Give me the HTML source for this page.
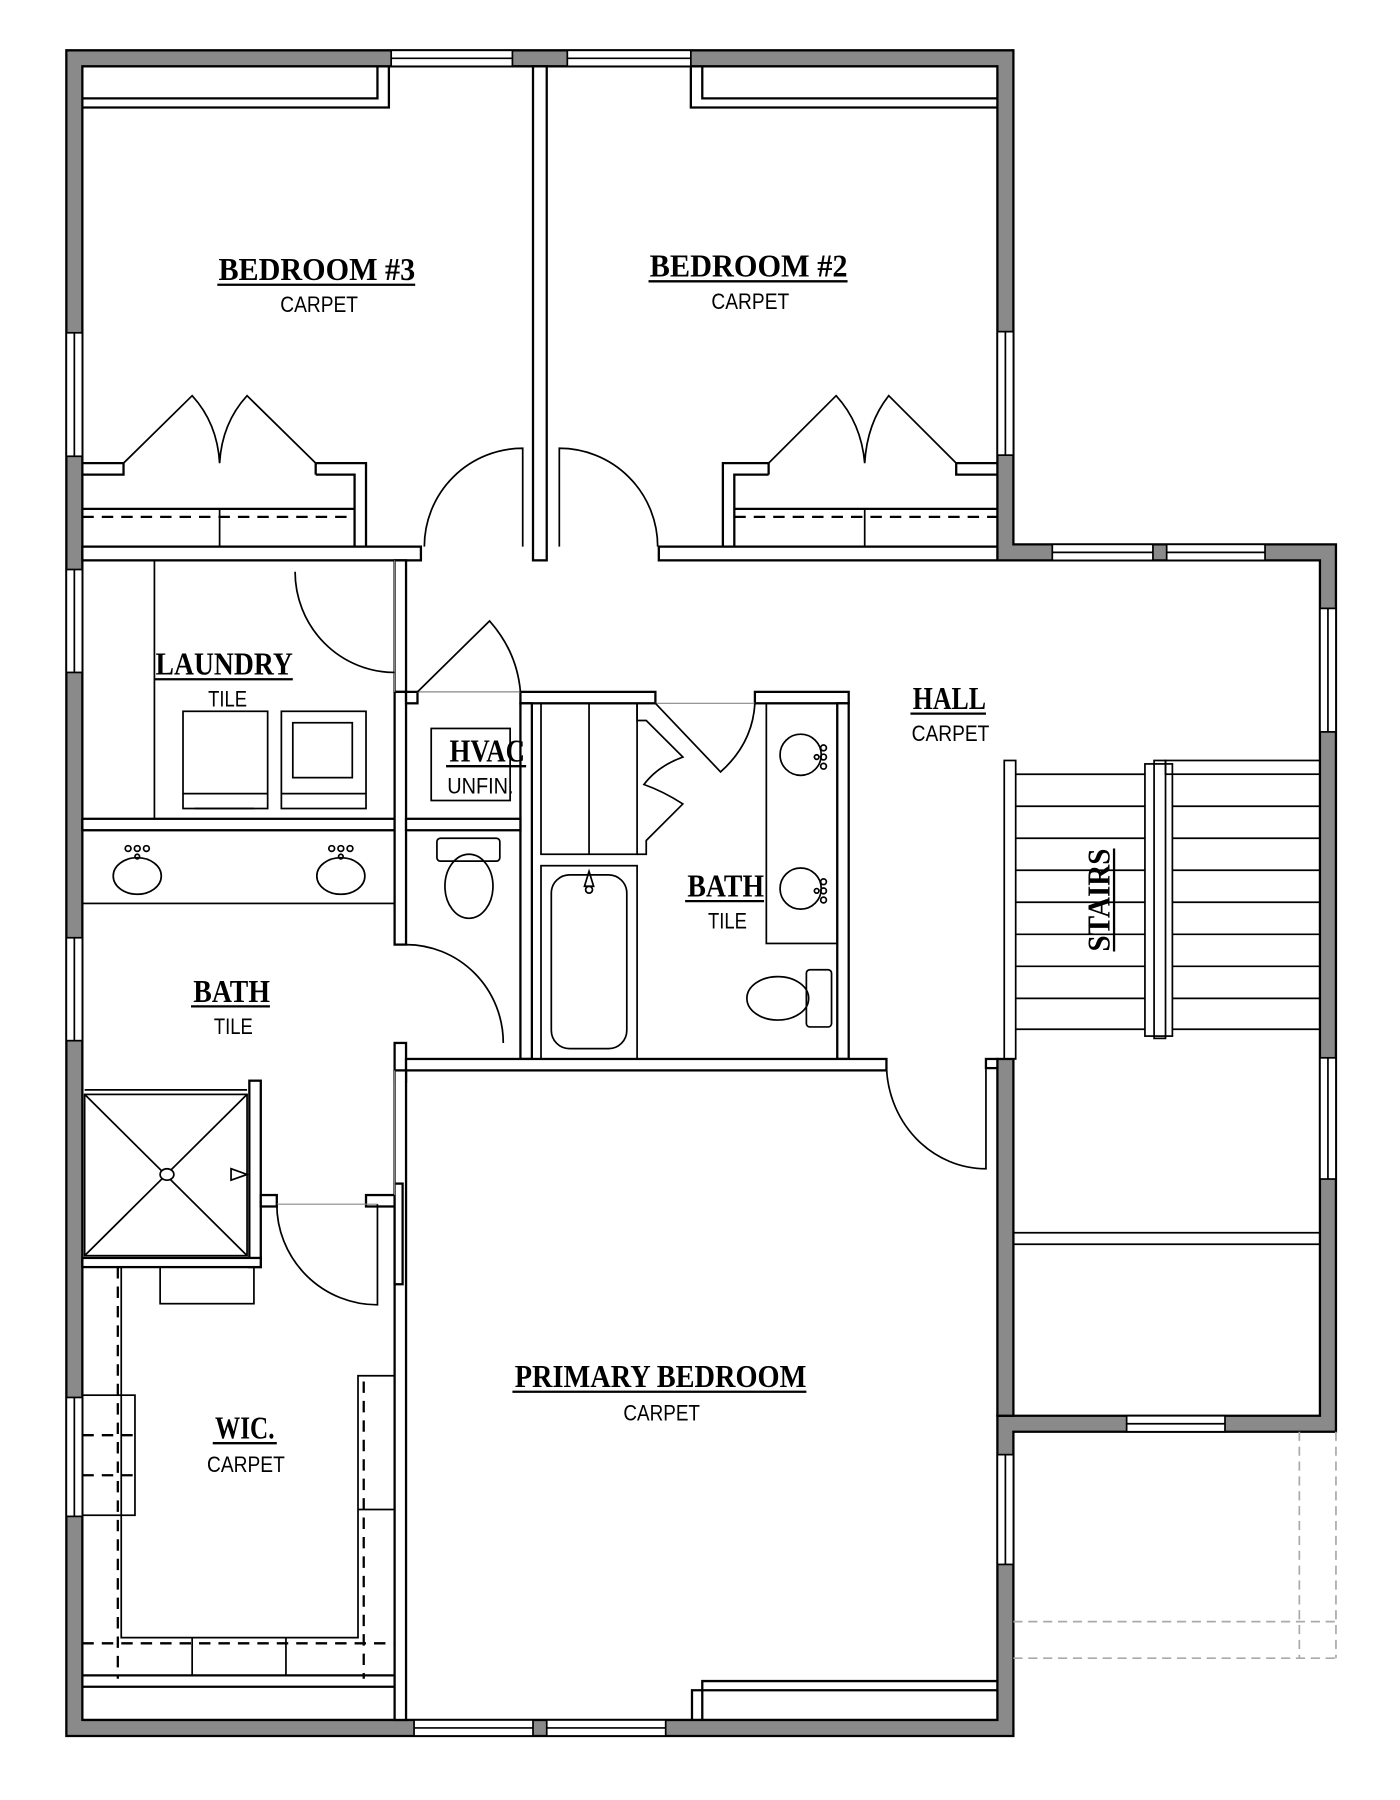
<!DOCTYPE html>
<html><head><meta charset="utf-8"><style>html,body{margin:0;padding:0;background:#fff}svg{display:block}
.w{fill:#8a8a8a;stroke:#000;stroke-width:2}
.iw{fill:#fff;stroke:#000;stroke-width:2}
.l{fill:none;stroke:#000;stroke-width:2}
.t{fill:none;stroke:#000;stroke-width:1.5}
.g{fill:none;stroke:#888;stroke-width:1}
.d{fill:none;stroke:#000;stroke-width:2;stroke-dasharray:10 7}
.gd{fill:none;stroke:#aaa;stroke-width:1.5;stroke-dasharray:8 5}
.win{fill:#fff;stroke:#000;stroke-width:1.5}
.h{font-family:"Liberation Serif",serif;font-weight:bold;font-size:28px;fill:#000}
.s{font-family:"Liberation Sans",sans-serif;font-size:19px;fill:#000}
</style></head><body>
<svg width="1400" height="1800" viewBox="0 0 1224 1574" preserveAspectRatio="none" xmlns="http://www.w3.org/2000/svg">
<!-- exterior walls -->
<path class="w" fill-rule="evenodd" d="M58,44 H886 V476 H1168 V1252 H886 V1518 H58 Z M72,58 V1504 H872 V1238 H1154 V490 H872 V58 Z"/>
<rect class="w" x="872" y="926" width="14" height="312"/>
<!-- windows -->
<g class="win">
<rect x="342" y="44" width="106" height="14"/><line x1="342" y1="51" x2="448" y2="51"/>
<rect x="496" y="44" width="108" height="14"/><line x1="496" y1="51" x2="604" y2="51"/>
<rect x="58" y="291" width="14" height="108"/><line x1="65" y1="291" x2="65" y2="399"/>
<rect x="58" y="498" width="14" height="90"/><line x1="65" y1="498" x2="65" y2="588"/>
<rect x="58" y="820" width="14" height="90"/><line x1="65" y1="820" x2="65" y2="910"/>
<rect x="58" y="1222" width="14" height="104"/><line x1="65" y1="1222" x2="65" y2="1326"/>
<rect x="872" y="290" width="14" height="108"/><line x1="879" y1="290" x2="879" y2="398"/>
<rect x="920" y="476" width="88" height="14"/><line x1="920" y1="483" x2="1008" y2="483"/>
<rect x="1020" y="476" width="86" height="14"/><line x1="1020" y1="483" x2="1106" y2="483"/>
<rect x="1154" y="532" width="14" height="108"/><line x1="1161" y1="532" x2="1161" y2="640"/>
<rect x="1154" y="925" width="14" height="106"/><line x1="1161" y1="925" x2="1161" y2="1031"/>
<rect x="985" y="1238" width="86" height="14"/><line x1="985" y1="1245" x2="1071" y2="1245"/>
<rect x="872" y="1272" width="14" height="96"/><line x1="879" y1="1272" x2="879" y2="1368"/>
<rect x="362" y="1504" width="104" height="14"/><line x1="362" y1="1511" x2="466" y2="1511"/>
<rect x="478" y="1504" width="104" height="14"/><line x1="478" y1="1511" x2="582" y2="1511"/>
</g>
<!-- interior walls -->
<g class="iw">
<rect x="466" y="58" width="12" height="432"/>
<rect x="72" y="478" width="296" height="12"/>
<rect x="576" y="478" width="296" height="12"/>
<rect x="345" y="490" width="10" height="115"/>
<rect x="72" y="716" width="273" height="10"/>
<rect x="345" y="605" width="10" height="221"/>
<rect x="355" y="605" width="10" height="10"/>
<rect x="455" y="605" width="118" height="10"/>
<rect x="455" y="615" width="10" height="311"/>
<rect x="355" y="716" width="100" height="10"/>
<rect x="660" y="605" width="82" height="10"/>
<rect x="732" y="615" width="10" height="311"/>
<rect x="345" y="912" width="10" height="34"/>
<rect x="355" y="926" width="420" height="10"/>
<rect x="862" y="926" width="10" height="8"/>
<rect x="345" y="936" width="10" height="568"/>
<rect x="218" y="945" width="10" height="163"/>
<rect x="228" y="1045" width="14" height="10"/>
<rect x="320" y="1045" width="25" height="10"/>
<rect x="72" y="1100" width="156" height="8"/>
</g>
<rect x="345" y="1035" width="7" height="88" fill="#fff" stroke="#000" stroke-width="2"/>
<line class="g" x1="345" y1="490" x2="345" y2="605"/>
<line class="g" x1="365" y1="605" x2="455" y2="605"/>
<line class="g" x1="573" y1="615" x2="660" y2="615"/>
<line class="g" x1="345" y1="936" x2="345" y2="1045"/>
<line class="g" x1="242" y1="1053" x2="330" y2="1053"/>
<!-- top wardrobes -->
<path class="l" d="M72,86 H330 V58 M72,94 H340 V58"/>
<path class="l" d="M872,86 H614 V58 M872,94 H604 V58"/>
<path class="l" d="M872,1470 H614 V1504 M872,1478 H605 V1504"/>
<!-- bedroom 3 closet -->
<path class="l" d="M72,405 H108 V415 H72 M276,415 V405 H320 V478 M310,478 V415 H276"/>
<line class="l" x1="72" y1="445" x2="310" y2="445"/>
<line class="d" x1="72" y1="452" x2="310" y2="452"/>
<line class="t" x1="192" y1="445" x2="192" y2="478"/>
<path class="t" d="M108,405 L168,346 Q190,370 192,405 M276,405 L216,346 Q194,370 192,405"/>
<!-- bedroom 2 closet -->
<path class="l" d="M872,405 H836 V415 H872 M672,415 V405 H632 V478 M642,478 V415 H672"/>
<line class="l" x1="642" y1="445" x2="872" y2="445"/>
<line class="d" x1="642" y1="452" x2="872" y2="452"/>
<line class="t" x1="756" y1="445" x2="756" y2="478"/>
<path class="t" d="M672,405 L731,346 Q753,370 756,405 M836,405 L777,346 Q758,370 756,405"/>
<!-- bedroom doors -->
<path class="t" d="M457,478 V392 A86,86 0 0 0 371,478"/>
<path class="t" d="M489,478 V392 A86,86 0 0 1 575,478"/>
<!-- laundry -->
<path class="t" d="M258,500 A87,88 0 0 0 345,588"/>
<line class="t" x1="135" y1="490" x2="135" y2="716"/>
<rect class="t" x="160" y="622" width="74" height="85"/>
<path class="t" d="M160,694 H234 M170,707 H222"/>
<rect class="t" x="246" y="622" width="74" height="85"/>
<rect class="t" x="256" y="632" width="52" height="48"/>
<path class="t" d="M246,694 H320"/>
<!-- HVAC -->
<path class="t" d="M365,605 L428,543 Q452,570 455,605"/>
<rect class="t" x="377" y="637" width="69" height="63"/>
<!-- toilet closet -->
<path class="t" d="M355,826 A85,86 0 0 1 440,912 H440"/>
<rect class="t" x="382" y="733" width="55" height="20" rx="3"/>
<ellipse class="t" cx="410" cy="775" rx="21" ry="28"/>
<!-- bath 2 -->
<rect class="t" x="473" y="615" width="84" height="132"/>
<line class="t" x1="515" y1="615" x2="515" y2="747"/>
<path class="t" d="M557,615 V630 H565 L597,662 Q575,670 563,686 Q580,692 597,703 L565,735 V747 H557"/>
<path class="t" d="M573,615 L630,675 Q658,650 660,615"/>
<rect class="t" x="473" y="757" width="84" height="169"/>
<rect class="t" x="482" y="765" width="66" height="152" rx="16"/>
<path class="t" d="M511,775 L515,762 L519,775 Z"/><circle class="t" cx="515" cy="778" r="3"/>
<rect class="t" x="670" y="615" width="62" height="210"/>
<circle class="t" cx="700" cy="660" r="18"/><circle class="t" cx="700" cy="777" r="18"/>
<g class="t"><circle cx="720" cy="654" r="2.5"/><circle cx="720" cy="662" r="2.5"/><circle cx="720" cy="670" r="2.5"/><circle cx="714" cy="662" r="2"/>
<circle cx="720" cy="771" r="2.5"/><circle cx="720" cy="779" r="2.5"/><circle cx="720" cy="787" r="2.5"/><circle cx="714" cy="779" r="2"/></g>
<rect class="t" x="705" y="848" width="22" height="50" rx="3"/>
<ellipse class="t" cx="680" cy="873" rx="27" ry="19"/>
<!-- bath 1 -->
<rect class="t" x="72" y="726" width="273" height="64"/>
<ellipse class="t" cx="120" cy="766" rx="21" ry="16"/><ellipse class="t" cx="298" cy="766" rx="21" ry="16"/>
<g class="t"><circle cx="112" cy="742" r="2.5"/><circle cx="120" cy="742" r="2.5"/><circle cx="128" cy="742" r="2.5"/><circle cx="120" cy="749" r="2"/>
<circle cx="290" cy="742" r="2.5"/><circle cx="298" cy="742" r="2.5"/><circle cx="306" cy="742" r="2.5"/><circle cx="298" cy="749" r="2"/></g>
<!-- primary door -->
<path class="t" d="M775,930 A87,92 0 0 0 862,1022 V934"/>
<!-- shower -->
<rect class="t" x="74" y="957" width="142" height="141"/>
<line class="t" x1="74" y1="953" x2="216" y2="953"/>
<path class="t" d="M74,957 L216,1098 M216,957 L74,1098"/>
<ellipse cx="146" cy="1027" rx="6" ry="5" fill="#fff" stroke="#000" stroke-width="1.5"/>
<path class="t" d="M202,1022 L216,1027 L202,1032 Z"/>
<!-- WIC -->
<path class="t" d="M242,1053 A88,88 0 0 0 330,1141 V1053"/>
<rect class="t" x="140" y="1108" width="82" height="32"/>
<line class="d" x1="103" y1="1108" x2="103" y2="1468"/>
<path class="t" d="M106,1108 V1432 H313 V1203 H345"/>
<line class="d" x1="318" y1="1208" x2="318" y2="1468"/>
<line class="t" x1="313" y1="1320" x2="345" y2="1320"/>
<line class="d" x1="72" y1="1437" x2="345" y2="1437"/>
<path class="t" d="M168,1432 V1465 M250,1432 V1465"/>
<path class="l" d="M72,1465 H345 M72,1475 H345"/>
<rect class="t" x="72" y="1220" width="46" height="105"/>
<path class="d" d="M72,1255 H118 M72,1290 H118"/>
<!-- stairs -->
<rect class="t" x="878" y="665" width="10" height="261"/>
<g class="t">
<line x1="888" y1="677" x2="1001" y2="677"/><line x1="888" y1="705" x2="1001" y2="705"/><line x1="888" y1="733" x2="1001" y2="733"/>
<line x1="888" y1="761" x2="1001" y2="761"/><line x1="888" y1="789" x2="1001" y2="789"/><line x1="888" y1="817" x2="1001" y2="817"/>
<line x1="888" y1="845" x2="1001" y2="845"/><line x1="888" y1="873" x2="1001" y2="873"/><line x1="888" y1="900" x2="1001" y2="900"/>
<line x1="1025" y1="705" x2="1154" y2="705"/><line x1="1025" y1="733" x2="1154" y2="733"/><line x1="1025" y1="761" x2="1154" y2="761"/>
<line x1="1025" y1="789" x2="1154" y2="789"/><line x1="1025" y1="817" x2="1154" y2="817"/><line x1="1025" y1="845" x2="1154" y2="845"/>
<line x1="1025" y1="873" x2="1154" y2="873"/><line x1="1025" y1="900" x2="1154" y2="900"/>
<rect x="1001" y="668" width="24" height="238"/><rect x="1009" y="665" width="10" height="243"/>
<rect x="1019" y="665" width="135" height="12"/>
<line x1="886" y1="1078" x2="1154" y2="1078"/><line x1="886" y1="1088" x2="1154" y2="1088"/>
</g>
<!-- deck dashed -->
<path class="gd" d="M886,1418 H1168 M886,1450 H1168 M1136,1252 V1450 M1168,1252 V1450"/>
<!-- labels -->
<g class="h">
<text x="191" y="245" textLength="172" lengthAdjust="spacingAndGlyphs">BEDROOM #3</text>
<text x="568" y="242" textLength="173" lengthAdjust="spacingAndGlyphs">BEDROOM #2</text>
<text x="136" y="590" textLength="120" lengthAdjust="spacingAndGlyphs">LAUNDRY</text>
<text x="393" y="666" textLength="66" lengthAdjust="spacingAndGlyphs">HVAC</text>
<text x="601" y="784" textLength="67" lengthAdjust="spacingAndGlyphs">BATH</text>
<text x="798" y="620" textLength="64" lengthAdjust="spacingAndGlyphs">HALL</text>
<text x="169" y="876" textLength="67" lengthAdjust="spacingAndGlyphs">BATH</text>
<text x="188" y="1258" textLength="52" lengthAdjust="spacingAndGlyphs">WIC.</text>
<text x="450" y="1213" textLength="255" lengthAdjust="spacingAndGlyphs">PRIMARY BEDROOM</text>
<text transform="translate(970,832) rotate(-90)" x="0" y="0" textLength="90" lengthAdjust="spacingAndGlyphs">STAIRS</text>
</g>
<g class="l" stroke-width="2">
<path d="M190,249 H363 M567,246 H741 M135,594 H256 M390,670 H460 M599,788 H668 M796,624 H862 M167,880 H236 M186,1262 H242 M448,1217 H705 M974,832 V742"/>
</g>
<g class="s">
<text x="245" y="273" textLength="68" lengthAdjust="spacingAndGlyphs">CARPET</text>
<text x="622" y="270" textLength="68" lengthAdjust="spacingAndGlyphs">CARPET</text>
<text x="182" y="618" textLength="34" lengthAdjust="spacingAndGlyphs">TILE</text>
<text x="391" y="694" textLength="58" lengthAdjust="spacingAndGlyphs">UNFIN.</text>
<text x="619" y="812" textLength="34" lengthAdjust="spacingAndGlyphs">TILE</text>
<text x="797" y="648" textLength="68" lengthAdjust="spacingAndGlyphs">CARPET</text>
<text x="187" y="904" textLength="34" lengthAdjust="spacingAndGlyphs">TILE</text>
<text x="181" y="1287" textLength="68" lengthAdjust="spacingAndGlyphs">CARPET</text>
<text x="545" y="1242" textLength="67" lengthAdjust="spacingAndGlyphs">CARPET</text>
</g>
</svg>
</body></html>
